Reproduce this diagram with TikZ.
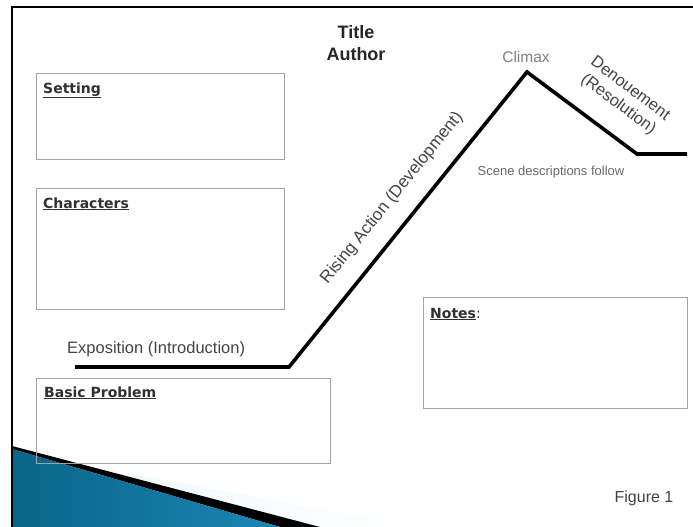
\documentclass[tikz,border=0pt]{standalone}
\usepackage{fontspec}
\setmainfont{Liberation Sans}
\newfontfamily\headfont{DejaVu Sans}
\usepackage{tikz}

\definecolor{boxgray}{HTML}{A2A2A2}
\definecolor{textgray}{HTML}{444444}
\definecolor{swooshdark}{HTML}{0A6488}
\definecolor{swooshlight}{HTML}{3CB2DA}
\definecolor{swooshmid}{HTML}{1A86B4}
\definecolor{swooshpale}{HTML}{CDE6F1}

\begin{document}
\begin{tikzpicture}[x=1pt, y=-1pt,
	infobox/.style={draw=boxgray, line width=1.4pt, anchor=north west, inner sep=0pt},
	boxhead/.style={anchor=base west, inner sep=0pt, text=textgray!70!black,
		font=\headfont\bfseries\fontsize{14}{17}\selectfont},
	arclabel/.style={inner sep=0pt, text=textgray, font=\fontsize{16.5}{19.5}\selectfont}]
	\useasboundingbox (0,0) rectangle (693,527);
	\fill[white] (0,0) rectangle (693,527);
	%swoosh
	\shade[left color=swooshpale!40!white, middle color=swooshpale, right color=white]
	(12,452) -- (417,527) -- (320,527) -- (12,446) -- cycle;
	\fill[black] (12,446) -- (320,527) -- (280,527) -- (12,449) -- cycle;
	\shade[left color=swooshdark, middle color=swooshlight, right color=swooshmid]
	(12,449) -- (280,527) -- (12,527) -- cycle;
	%frame
	\draw[line width=2.6pt] (12,527) -- (12,7) -- (693,7);
	%title
	\node[anchor=base, font=\bfseries\fontsize{18}{21}\selectfont, text=black!85] (title) at (356,38) {Title};
	\node[anchor=base, font=\bfseries\fontsize{18}{21}\selectfont, text=black!85] (author) at (356,60) {Author};
	%boxes
	\node[infobox, minimum width=248pt, minimum height=86pt] (setting) at (36,73) {};
	\node[infobox, minimum width=248pt, minimum height=121pt] (characters) at (36,188) {};
	\node[infobox, minimum width=294pt, minimum height=85pt] (problem) at (36,378) {};
	\node[infobox, minimum width=264pt, minimum height=111pt] (notes) at (423,297) {};
	\node[boxhead] (settinghead) at (43,93) {\underline{Setting}};
	\node[boxhead] (charactershead) at (43,208) {\underline{Characters}};
	\node[boxhead] (problemhead) at (44,397) {\underline{Basic Problem}};
	\node[boxhead] (noteshead) at (430,318) {\underline{Notes}{\mdseries :}};
	%plot line
	\coordinate (expo) at (75,367);
	\coordinate (rise) at (289,367);
	\coordinate (peak) at (527,72);
	\coordinate (fall) at (637,154);
	\coordinate (end) at (687,154);
	\draw[line width=3.6pt] (expo) -- (rise) -- (peak) -- (fall) -- (end);
	%labels
	\node[arclabel, anchor=base west] (expolabel) at (67,353) {Exposition (Introduction)};
	\node[arclabel, rotate=51, font=\fontsize{17}{20}\selectfont] (riselabel) at (392,198) {Rising Action (Development)};
	\node[arclabel, anchor=base, text=gray, font=\fontsize{15.5}{18}\selectfont] (climaxlabel) at (526,63) {Climax};
	\node[arclabel, rotate=-37, align=center] (fallabel) at (624,97) {Denouement\\(Resolution)};
	\node[arclabel, anchor=base, text=textgray!80, font=\fontsize{13}{15}\selectfont] (scenes) at (551,175) {Scene descriptions follow};
	\node[arclabel, anchor=base, font=\fontsize{16}{19}\selectfont] (figure) at (644,502) {Figure 1};
\end{tikzpicture}
\end{document}
